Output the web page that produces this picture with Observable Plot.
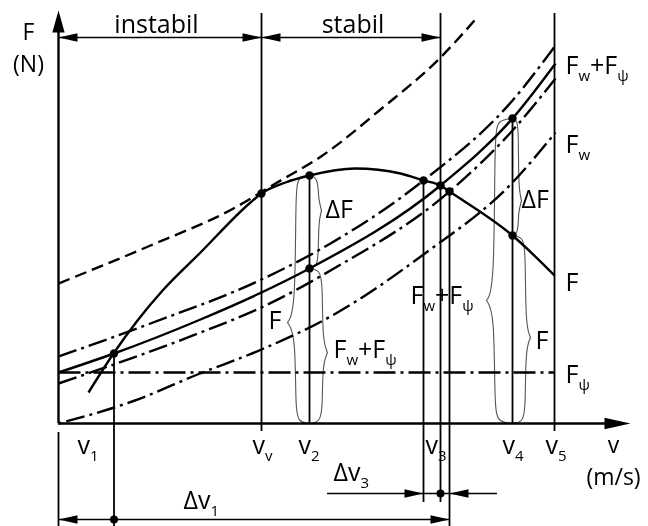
<!DOCTYPE html>
<html>
<head>
<meta charset="utf-8">
<script src="https://cdn.jsdelivr.net/npm/d3@7"></script>
<script src="https://cdn.jsdelivr.net/npm/@observablehq/plot@0.6"></script>
<style>
  body { margin: 0; background: #fff; }
  svg { display: block; filter: grayscale(1); }
  svg text, svg tspan { fill: #000; }
</style>
</head>
<body>
<div id="chart"></div>
<script>
// ---------- data (schematic units: v along x, F along y) ----------
const dashedTop  = [[0,14.0],[9.2,17.8],[17.5,21.5],[21.7,24.0],[26.4,26.8],[32.2,31.4],[38.2,36.6],[41.6,40.3]];
const resUpper   = [[0,6.7],[9.2,10.0],[20.3,14.4],[27.2,18.0],[36.5,24.3],[45.4,32.3],[49.7,37.8]];
const resMid     = [[0,5.1],[5.55,7.0],[14.2,10.4],[20.3,13.1],[25.1,15.5],[38.2,23.8],[45.4,30.5],[49.7,36.0]];
const resLower   = [[0,4.0],[14.2,9.1],[20.3,11.6],[27.2,15.3],[39.1,23.2],[45.4,29.3],[49.7,34.5]];
const airRes     = [[0,0],[7.5,2.25],[13.9,4.9],[20.3,7.4],[27.2,10.7],[36.5,16.9],[45.4,24.1],[49.7,29.1]];
const gradeRes   = [[0,5.1],[49.6,5.1]];
const tractive   = [[3.0,3.1],[5.5,7.0],[7.9,10.3],[10.5,13.4],[14.2,17.1],[19.2,22.1],[20.3,23.0],[22.7,24.1],
                    [25.1,24.8],[29.7,25.5],[34.2,25.0],[36.5,24.3],[38.2,23.8],[39.1,23.2],[45.4,18.8],[49.6,14.8]];
const keyPoints  = [[5.55,7.0],[20.3,23.0],[25.1,24.8],[25.1,15.5],[36.5,24.3],[38.2,23.8],[39.1,23.2],[45.4,30.5],[45.4,18.8]];

// speed marks (x) with vertical extents (y1, y2)
const guides = [[0,-0.9,-10.3],[5.55,7.0,-10.3],[20.3,-0.8,41.0],[25.1,0,24.8],[36.5,24.3,-7.9],
                [38.2,-7.9,41.0],[39.1,23.2,-10.3],[45.4,0,30.5],[49.6,-0.8,41.0]];

// dimension lines: y, x1, x2
const dimLines = [[38.6,0,20.3],[38.6,20.3,38.2],[-7.0,26.9,43.9],[-9.6,0,39.1]];
const dimDots = [[38.2,-7.0],[5.55,-9.6]];
const headsRight = [[20.3,38.6],[38.2,38.6],[36.5,-7.0],[39.1,-9.6]];
const headsLeft  = [[0,38.6],[20.3,38.6],[39.1,-7.0],[0,-9.6]];

// texts
const axisTitles = [["F\n(N)",-3.0,35.2],["v\n(m/s)",55.5,-6.1]];
const labelsMiddle = [["instabil",9.8,39.1],["stabil",29.45,39.1]];
const labelsStart = [
  ["F_w+F_ψ",50.7,35.0],["F_w",50.7,27.1],["F",50.7,13.3],["F_ψ",50.7,4.1],
  ["F_w+F_ψ",35.2,12.0],["ΔF",26.7,20.6],["F",21.0,9.5],["F_w+F_ψ",27.5,6.6],
  ["ΔF",46.3,21.6],["F",47.7,7.5],
  ["v_1",1.9,-3.0],["v_v",19.4,-3.0],["v_2",24.0,-3.0],["v_3",36.7,-3.0],["v_4",44.4,-3.0],["v_5",48.7,-3.0],
  ["Δv_3",27.5,-5.7],["Δv_1",12.5,-8.5]
];

// braces: line x, top, bottom, side, middle (cusp), body offset, tip offset
const braces = [
  [25.1,24.8,0,-1,10.1,1.4,2.2],
  [25.1,24.8,15.5,1,21.3,0.9,1.2],
  [25.1,15.5,0,1,7.1,1.3,1.8],
  [45.4,30.5,0,-1,12.3,1.8,2.6],
  [45.4,30.5,18.8,1,22.3,0.6,0.9],
  [45.4,18.8,0,1,8.6,1.3,1.8]
];

// ---------- helpers ----------
function head(dir, aspect) {
  return {draw(ctx, size) {
    const L = Math.sqrt(size / Math.PI), W = L * aspect;
    const p = dir === "right" ? [[0,0],[-L,-W],[-L,W]]
            : dir === "left"  ? [[0,0],[L,-W],[L,W]]
            : [[0,0],[-W,L],[W,L]];
    ctx.moveTo(p[0][0], p[0][1]); ctx.lineTo(p[1][0], p[1][1]); ctx.lineTo(p[2][0], p[2][1]); ctx.closePath();
  }};
}
const braceLines = [];
braces.forEach(([x, top, bot, side, mid, w, tip], i) => {
  const X = d => x + side * d;
  const up = [[x, top],[X(w*0.8), top-0.15],[X(w), top-1.5],[X(w), mid+1.2],[X(tip), mid]];
  const lo = [[x, bot],[X(w*0.8), bot+0.15],[X(w), bot+1.5],[X(w), mid-1.2],[X(tip), mid]];
  up.forEach(p => braceLines.push({x: p[0], y: p[1], z: i + "u"}));
  lo.forEach(p => braceLines.push({x: p[0], y: p[1], z: i + "l"}));
});

const px = d => d[0], py = d => d[1];
const FONT = "Open Sans";
const dashDot = "19,5,3,5";
const lineOpts = {x: px, y: py, stroke: "black", strokeWidth: 2.4, strokeLinecap: "butt", curve: "monotone-x"};

const svg = Plot.plot({
  width: 648, height: 526,
  marginLeft: 58, marginRight: 10, marginTop: 10, marginBottom: 103,
  x: {domain: [0, 58], axis: null},
  y: {domain: [0, 41.3], axis: null},
  style: {background: "white", fontFamily: FONT, overflow: "visible"},
  marks: [
    // braces
    Plot.line(braceLines, {x: "x", y: "y", z: "z", curve: "basis", stroke: "#555", strokeWidth: 1.1}),
    // curves
    Plot.line(dashedTop, {...lineOpts, strokeDasharray: "12,6"}),
    Plot.line(resUpper, {...lineOpts, strokeDasharray: dashDot}),
    Plot.line(resMid, {...lineOpts}),
    Plot.line(resLower, {...lineOpts, strokeDasharray: dashDot}),
    Plot.line(airRes, {...lineOpts, strokeDasharray: "3,5,19,5"}),
    Plot.line(gradeRes, {...lineOpts, curve: "linear", strokeDasharray: "22,5,3,5"}),
    Plot.line(tractive, {...lineOpts}),
    // guides
    Plot.ruleX(guides, {x: px, y1: py, y2: d => d[2], stroke: "black", strokeWidth: 1.8}),
    // axes
    Plot.ruleY([0], {x1: 0, x2: 56, stroke: "black", strokeWidth: 2.4}),
    Plot.ruleX([0], {y1: 0, y2: 40.5, stroke: "black", strokeWidth: 2.4}),
    Plot.dot([[0, 41.3]], {x: px, y: py, r: 22, symbol: head("up", 0.28), fill: "black", stroke: "none"}),
    Plot.dot([[57.2, 0]], {x: px, y: py, r: 26, symbol: head("right", 0.22), fill: "black", stroke: "none"}),
    // dimension lines
    Plot.ruleY(dimLines, {y: d => d[0], x1: d => d[1], x2: d => d[2], stroke: "black", strokeWidth: 1.6}),
    Plot.dot(headsRight, {x: px, y: py, r: 19, symbol: head("right", 0.23), fill: "black", stroke: "none"}),
    Plot.dot(headsLeft, {x: px, y: py, r: 19, symbol: head("left", 0.23), fill: "black", stroke: "none"}),
    Plot.dot(dimDots, {x: px, y: py, r: 4, fill: "black"}),
    // key points
    Plot.dot(keyPoints, {x: px, y: py, r: 4.2, fill: "black"}),
    // labels
    Plot.text(axisTitles, {x: d => d[1], y: d => d[2], text: d => d[0], textAnchor: "middle", lineAnchor: "bottom",
      lineHeight: 1.37, fontSize: 23, fontFamily: FONT, fill: "black"}),
    Plot.text(labelsMiddle, {x: d => d[1], y: d => d[2], text: d => d[0], textAnchor: "middle", lineAnchor: "bottom",
      fontSize: 25, fontFamily: FONT, fill: "black"}),
    Plot.text(labelsStart, {x: d => d[1], y: d => d[2], text: d => d[0], textAnchor: "start", lineAnchor: "bottom",
      fontSize: 25, fontFamily: FONT, fill: "black"})
  ]
});

// subscripts: "_x" -> subscript x
const NS = "http://www.w3.org/2000/svg";
svg.querySelectorAll("text").forEach(el => {
  const s = el.textContent;
  if (!s.includes("_")) return;
  while (el.firstChild) el.removeChild(el.firstChild);
  const parts = s.split(/_(.)/);
  let shifted = false;
  parts.forEach((p, i) => {
    if (!p) return;
    const ts = document.createElementNS(NS, "tspan");
    ts.textContent = p;
    ts.setAttribute("fill", "black");
    if (i % 2 === 1) { ts.setAttribute("font-size", "15"); ts.setAttribute("dy", "7"); shifted = true; }
    else if (shifted) { ts.setAttribute("dy", "-7"); shifted = false; }
    el.appendChild(ts);
  });
});

document.getElementById("chart").appendChild(svg);
</script>
</body>
</html>
